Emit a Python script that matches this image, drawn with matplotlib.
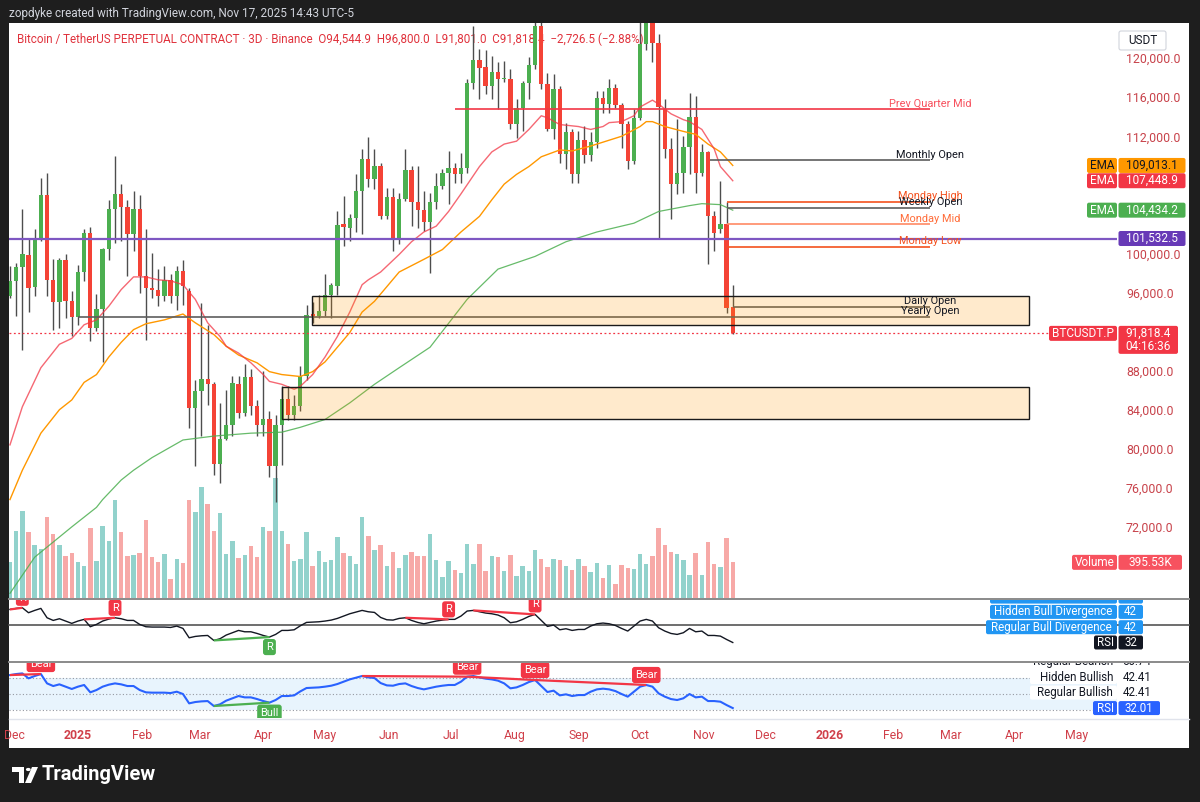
import matplotlib
matplotlib.use("Agg")
import matplotlib.pyplot as plt
from matplotlib.patches import Rectangle, FancyBboxPatch, Polygon, Circle
from matplotlib.lines import Line2D
from matplotlib.transforms import Bbox, TransformedBbox
import numpy as np
import pandas as pd

plt.rcParams['font.family'] = ['Roboto', 'DejaVu Sans']

# ------------------------------------------------------------------ data
first_bar = pd.Timestamp('2024-11-29')   # 3D candles
bar_days = 3

opens = [95600, 97200, 98600, 99860, 96550, 101330, 105950, 97330, 95040, 99380,
         95180, 93470, 98080, 102120, 92370, 94330, 100410, 104510, 106050, 104750,
         101950, 104580, 97680, 96480, 96310, 95620, 97330, 95620, 98190, 96140,
         84170, 85880, 87140, 86670, 78460, 80990, 82460, 86670, 83660, 87320,
         84340, 82460, 83080, 78260, 82460, 85090, 83490, 84340, 87420, 93810,
         93570, 94080, 95700, 96720, 103000, 102640, 103670, 106390, 109640, 107660,
         108960, 103830, 105780, 101430, 105610, 108550, 105270, 104440, 103210, 105270,
         106910, 108270, 108790, 108100, 108790, 117440, 119830, 119110, 117160, 118630,
         117850, 117850, 113230, 114940, 117440, 119280, 123320, 117330, 112720, 116890,
         110150, 112440, 108100, 111600, 110050, 111400, 115970, 115280, 116990, 115180,
         113230, 109470, 113900, 121500, 124400, 121600, 114800, 110670, 107100, 108200,
         110900, 114020, 108200, 110420, 103830, 102460, 102970, 94544.9]
highs = [98700, 99040, 104580, 101500, 102460, 107760, 108270, 99450, 99550, 99900,
         96200, 98870, 102460, 102740, 95800, 100580, 105470, 109980, 107080, 105440,
         106390, 105950, 102460, 100070, 98360, 98700, 97850, 98700, 99380, 96480,
         87080, 94940, 92720, 86800, 84680, 86050, 87420, 87490, 88690, 88170,
         85030, 87930, 83830, 83490, 86390, 86390, 85540, 88440, 94770, 95000,
         95700, 97850, 97000, 104300, 105880, 104000, 108100, 110700, 111900, 110670,
         109300, 106730, 106730, 106220, 110670, 108960, 108960, 106390, 106220, 108270,
         108610, 110490, 109300, 110320, 117850, 123320, 120920, 120850, 120240, 119560,
         119730, 118870, 115790, 117680, 120070, 124400, 124500, 118530, 118360, 117160,
         113400, 112700, 112500, 113060, 112400, 116650, 116650, 117850, 117330, 115450,
         113570, 114770, 123900, 126100, 125500, 122460, 115800, 111860, 113740, 112030,
         116410, 116140, 111180, 110490, 104340, 107400, 105300, 96800]
lows = [95450, 93570, 90150, 93980, 95620, 101260, 95620, 92200, 92370, 93400,
        91520, 92720, 97160, 91010, 92030, 88860, 99380, 101090, 101260, 97680,
        100240, 95960, 91180, 95450, 94600, 95110, 94940, 94260, 94770, 82120,
        78190, 81270, 84510, 77330, 76480, 80920, 81270, 83140, 83400, 83490,
        81270, 81270, 77090, 74500, 78360, 82970, 82970, 83830, 87080, 92900,
        93400, 93570, 93400, 95700, 100750, 101260, 102150, 101950, 106770, 106560,
        103490, 103490, 100240, 100920, 105370, 102800, 102630, 102290, 98020, 104510,
        106560, 105020, 107250, 107250, 108200, 116820, 115790, 116310, 115790, 114770,
        117600, 112720, 111860, 112550, 115790, 118900, 116820, 112550, 111690, 109300,
        108600, 107250, 107250, 109300, 109500, 110840, 114400, 114400, 114940, 110840,
        108600, 109130, 113700, 120800, 119560, 101500, 109800, 103490, 106050, 106220,
        108100, 106220, 107930, 98890, 100240, 102120, 93950, 91801]
closes = [97200, 98600, 99900, 96480, 101330, 105950, 97330, 95040, 99380, 95180,
          93470, 98080, 102120, 92370, 94330, 100410, 104510, 106050, 104750, 101950,
          104580, 97680, 96480, 96310, 95620, 97330, 95620, 98190, 96650, 84170,
          85880, 87140, 86670, 78460, 80990, 82460, 86740, 83660, 87320, 84340,
          82460, 83080, 78260, 82460, 85090, 83490, 84340, 87420, 93740, 93570,
          94080, 95700, 96820, 102870, 102700, 103670, 106390, 109640, 107590, 108960,
          103830, 105780, 101430, 105610, 108550, 105270, 104440, 103210, 105270, 106910,
          108270, 108790, 108100, 108790, 117440, 119830, 119040, 117160, 118630, 117850,
          117910, 113230, 114940, 117440, 119280, 123320, 117330, 112720, 116890, 110150,
          112440, 108100, 111600, 110050, 111400, 115970, 115280, 116900, 115180, 113230,
          109470, 113900, 121500, 124400, 121600, 115000, 110670, 107100, 108200, 110900,
          114020, 108200, 110420, 103830, 102120, 102970, 94430, 91818.4]
volumes_k = [399, 746, 960, 727, 591, 543, 901, 709, 583, 469,
             499, 399, 358, 779, 410, 794, 635, 1089, 735, 469,
             480, 499, 868, 454, 395, 491, 211, 436, 388, 1089,
             956, 1237, 1041, 739, 945, 484, 628, 443, 480, 576,
             458, 787, 739, 1330, 746, 602, 410, 436, 727, 351,
             517, 399, 425, 676, 499, 469, 380, 901, 691, 528,
             591, 358, 506, 332, 480, 513, 469, 462, 713, 421,
             233, 414, 314, 277, 595, 377, 595, 303, 465, 458,
             303, 480, 247, 351, 303, 535, 428, 340, 428, 421,
             355, 314, 432, 358, 292, 388, 225, 366, 151, 366,
             329, 321, 487, 377, 469, 776, 591, 506, 491, 425,
             259, 502, 259, 624, 380, 347, 668, 395.53]
rsi = [73.3, 74.6, 75.4, 69.2, 72.1, 74.6, 62.9, 59.6, 61.7, 58.8,
       55.9, 58.8, 60.9, 51.7, 54.6, 58.8, 61.3, 62.9, 61.7, 59.6,
       59.6, 54.6, 51.7, 51.3, 51.3, 51.3, 50.8, 52.5, 49.6, 37.9,
       39.6, 40.4, 40.8, 34.6, 36.7, 41.3, 44.2, 47.1, 45.4, 45.4,
       43.3, 40.8, 38.8, 42.1, 47.1, 47.1, 47.9, 52.9, 57.1, 57.5,
       57.9, 58.8, 60.0, 62.1, 65.0, 67.9, 70.0, 72.1, 70.4, 69.6,
       63.3, 60.4, 60.0, 62.1, 62.9, 59.6, 57.1, 55.4, 57.1, 58.8,
       60.0, 60.9, 60.9, 65.0, 71.3, 72.1, 70.4, 68.8, 67.9, 66.3,
       62.9, 56.7, 57.9, 60.9, 64.6, 67.1, 59.6, 52.1, 53.8, 47.9,
       49.2, 47.1, 48.3, 48.3, 52.5, 55.4, 56.3, 55.4, 53.3, 49.6,
       46.3, 52.5, 58.8, 60.9, 58.8, 50.4, 46.3, 43.3, 42.1, 44.2,
       49.6, 45.4, 46.3, 40.8, 40.8, 40.0, 35.8, 32.01]

# EMA readings (bar index, value)
ema_fast_idx = [0, 2, 5, 8, 10, 12, 14, 16, 18, 20, 22, 24, 26, 28, 30, 32, 34, 35, 37, 39,
                41, 42, 44, 46, 47, 49, 51, 53, 55, 57, 58, 60, 63, 65, 67, 69, 71, 73, 76, 78,
                80, 82, 84, 86, 87, 89, 92, 94, 96, 97, 99, 101, 102, 104, 105, 107, 109, 110,
                112, 114, 115, 117]
ema_fast = [80400, 84300, 88300, 90700, 91300, 92700, 93200, 94600, 96300, 97600, 97600, 97300,
            97200, 96800, 95300, 92900, 91500, 90500, 89800, 88800, 87600, 86900, 86600, 86100,
            86400, 87600, 89400, 91500, 94000, 96800, 97300, 98100, 99900, 101200, 102200, 102800,
            104300, 106100, 108900, 110400, 111200, 111500, 112700, 114100, 113900, 113200, 113000,
            112700, 113000, 113400, 113500, 114100, 115000, 115700, 115300, 114300, 113700, 113500,
            112700, 110700, 108900, 107448.9]
ema_mid_idx = [0, 2, 5, 8, 10, 12, 14, 16, 18, 20, 22, 25, 28, 30, 33, 35, 37, 40, 42, 44,
               47, 49, 51, 53, 55, 57, 59, 63, 67, 70, 73, 76, 78, 80, 82, 84, 86, 89, 91, 94,
               97, 99, 102, 103, 104, 106, 109, 111, 113, 115, 117]
ema_mid = [74800, 77800, 81600, 84000, 85000, 86800, 87600, 89400, 90900, 92200, 92800, 93200,
           93800, 92900, 91700, 90500, 89600, 88800, 87900, 87600, 87400, 87900, 88900, 90400,
           91900, 94000, 95100, 98100, 99400, 100400, 102200, 103800, 105500, 107100, 108100,
           108900, 109900, 110600, 110500, 111000, 111600, 112000, 113000, 113500, 113500,
           113000, 112500, 112200, 111200, 110400, 109013.1]
ema_slow_idx = [0, 4, 10, 14, 15, 18, 20, 23, 28, 33, 39, 44, 47, 51, 55, 59, 63, 68, 74, 79,
                85, 90, 95, 101, 105, 110, 112, 115, 117]
ema_slow = [65200, 68900, 72000, 74000, 74800, 76800, 77800, 79100, 80900, 81300, 81600, 81700,
            82200, 83000, 84700, 86600, 88300, 90400, 95300, 98400, 99700, 101200, 102200,
            103100, 104300, 104900, 105100, 105000, 104434.2]

swing_low_level = 101532.5
price_ticks = [72000, 76000, 80000, 84000, 88000, 96000, 100000, 112000, 116000, 120000]

# level lines: label, price, start bar, line colour, text colour
levels = [("Prev Quarter Mid", 114770, 72, '#F23645', '#F7525F'),
          ("Monthly Open", 109570, 113.3, '#5d5d5d', '#131722'),
          ("Monday High", 105300, 116, '#F4511E', '#F4511E'),
          ("Weekly Open", 104690, 116, '#5d5d5d', '#131722'),
          ("Monday Mid", 102980, 116, '#FF8A65', '#FF6D3A'),
          ("Monday Low", 100690, 116, '#F4511E', '#F4511E'),
          ("Daily Open", 94544.9, 117, '#5d5d5d', '#131722'),
          ("Yearly Open", 93510, 11, '#5d5d5d', '#131722')]
level_end_bar = 149
# supply / demand zones: top, bottom, start bar
zones = [(95690, 92720, 48.95), (86330, 83080, 44.0)]
zone_end_bar = 164.9

# divergences (bar pairs)
top_bear = [(0, 2), (12, 17), (64, 71), (75, 85)]
top_bull = [(33, 42)]
bot_bear = [(0, 5), (57, 74), (74, 85), (85, 103)]
bot_bull = [(33, 42)]

month_dates = ['2024-12-01', '2025-01-01', '2025-02-01', '2025-03-01', '2025-04-01', '2025-05-01',
               '2025-06-01', '2025-07-01', '2025-08-01', '2025-09-01', '2025-10-01', '2025-11-01',
               '2025-12-01', '2026-01-01', '2026-02-01', '2026-03-01', '2026-04-01', '2026-05-01']
month_labels = ['Dec', '2025', 'Feb', 'Mar', 'Apr', 'May', 'Jun', 'Jul', 'Aug', 'Sep', 'Oct', 'Nov',
                'Dec', '2026', 'Feb', 'Mar', 'Apr', 'May']

# ------------------------------------------------------------------ figure
W, H = 1200, 802
fig = plt.figure(figsize=(W / 100, H / 100), dpi=100)
fig.patch.set_facecolor('#1E1E1E')

def fr(x0, y0, x1, y1):
    return [x0 / W, 1 - y1 / H, (x1 - x0) / W, (y1 - y0) / H]

TOP = 23
fig.add_artist(Rectangle((9 / W, 1 - 748 / H), (1189 - 9) / W, (748 - TOP) / H,
                         transform=fig.transFigure, fc='white', ec='none', zorder=0))

o = np.array(opens, float); hi = np.array(highs, float)
lo = np.array(lows, float); c = np.array(closes, float)
v = np.array(volumes_k, float); r = np.array(rsi, float)
n = len(c)
idx = np.arange(n)
up = c >= o
XL = (-0.16, 179.2)

GREEN = '#4CAF50'; RED = '#F44336'
RED_TAG = '#F23645'
TAG_FS = 8.5

ax_vol = fig.add_axes(fr(9, TOP, 1117, 598))
ax = fig.add_axes(fr(9, TOP, 1117, 598))
for a in (ax_vol, ax):
    a.set_facecolor('none')
    for s in a.spines.values():
        s.set_visible(False)
    a.set_xlim(*XL)
ax_vol.set_axis_off()
ax_vol.set_ylim(0, 6380)
vol_col = np.where(up, '#92D2CC', '#F7A9A7')
ax_vol.bar(idx, v, width=0.72, color=vol_col, linewidth=0)

ax.set_ylim(64720, 123600)
ax.tick_params(axis='x', bottom=False, labelbottom=False)
ax.yaxis.tick_right()
ax.set_yticks(price_ticks)
ax.set_yticklabels([f"{t:,.1f}" for t in price_ticks])
ax.tick_params(axis='y', length=0, pad=6.5, labelsize=8.9, labelcolor='#C8434B')

# candles
ax.vlines(idx, lo, hi, color='#4d4d4d', lw=1.0, zorder=2)
body_b = np.minimum(o, c)
body_h = np.maximum(np.abs(c - o), 90)
ax.bar(idx, body_h, bottom=body_b, width=0.7, color=np.where(up, GREEN, RED),
       linewidth=0, zorder=3)

# EMAs
ax.plot(ema_slow_idx, ema_slow, color='#4CAF50', lw=0.9, alpha=0.85, zorder=4)
ax.plot(ema_mid_idx, ema_mid, color='#FF9800', lw=1.0, zorder=4)
ax.plot(ema_fast_idx, ema_fast, color='#F23645', lw=1.0, alpha=0.75, zorder=4)

# horizontal lines
ax.axhline(swing_low_level, color='#7E57C2', lw=1.6, zorder=4)
ax.axhline(c[-1], color='#F23645', lw=0.9, ls=(0, (1.5, 2)), zorder=4)
for lab, lv, s0, lc, tc in levels:
    ax.hlines(lv, s0, level_end_bar, color=lc, lw=1.2, zorder=4)
    ax.annotate(lab, (level_end_bar, lv), xytext=(0, 5.5), textcoords='offset pixels',
                ha='center', va='center', color=tc, fontsize=7.9, zorder=7)
for zt, zb, z0 in zones:
    ax.add_patch(Rectangle((z0, zb), zone_end_bar - z0, zt - zb, fc=(1.0, 0.596, 0.0, 0.2),
                           ec='#1a1a1a', lw=1.0, zorder=5))

# header
ax.text(17 / W, 1 - 39.5 / H,
        "Bitcoin / TetherUS PERPETUAL CONTRACT · 3D · Binance  O94,544.9  H96,800.0  "
        "L91,801.0  C91,818.4  \u22122,726.5 (\u22122.88%)",
        transform=fig.transFigure, color='#E0323C', fontsize=8.4, va='center', ha='left',
        zorder=1.5)
fig.text(9 / W, 1 - 13 / H, "zopdyke created with TradingView.com, Nov 17, 2025 14:43 UTC-5",
         color='#D1D4DC', fontsize=8.5, va='center', ha='left')

# ------------------------------------------------------------------ RSI panes
ax1 = fig.add_axes(fr(9, 600, 1117, 661))
ax2 = fig.add_axes(fr(9, 663, 1117, 718))
for a in (ax1, ax2):
    a.set_facecolor('none')
    for s in a.spines.values():
        s.set_visible(False)
    a.set_xlim(*XL)
    a.set_yticks([])
ax1.set_xticks([])
ax1.set_ylim(8.9, 85.1)
ax2.set_ylim(19.6, 88.4)

ax1.plot([XL[0], 190.9], [54.2, 54.2], color='#555555', lw=1.2, clip_on=False, zorder=2)
ax1.plot(idx, r, color='#131722', lw=1.0, zorder=3)

ax2.axhspan(30, 70, color='#2196F3', alpha=0.1, lw=0)
for lv in (70, 50, 30):
    ax2.axhline(lv, color='#9598A1', lw=0.8, ls=(0, (1, 2)))
ax2.plot(idx, r, color='#2962FF', lw=1.5, zorder=3)


def div(axis, pairs, color, text, up_side):
    for a_, b_ in pairs:
        axis.plot([a_, b_], [r[a_], r[b_]], color=color, lw=1.6, zorder=4,
                  solid_capstyle='butt')
        axis.annotate(text, (b_, r[b_]), xytext=(0, 10 if up_side else -10),
                      textcoords='offset pixels', ha='center', va='center', fontsize=7.9,
                      color='white', zorder=6, annotation_clip=False, clip_on=True,
                      bbox=dict(boxstyle='round,pad=0.28,rounding_size=0.25', fc=color,
                                ec='none'))


div(ax1, top_bear, '#F23645', 'R', True)
div(ax1, top_bull, '#4CAF50', 'R', False)
div(ax2, bot_bear, '#F23645', 'Bear', True)
div(ax2, bot_bull, '#4CAF50', 'Bull', False)

# time axis
mpos = [(pd.Timestamp(d) - first_bar).days / bar_days for d in month_dates]
ax2.set_xticks(mpos)
ax2.set_xticklabels(month_labels)
ax2.tick_params(axis='x', length=0, pad=8.0, labelsize=8.8, labelcolor='#D0404A')
for t in ax2.get_xticklabels():
    if t.get_text() in ('2025', '2026'):
        t.set_fontweight('bold')

# separators
for yy, col, lw in ((599, '#8a8a8a', 1.4), (662, '#8a8a8a', 1.4), (719, '#E0E3EB', 1.0)):
    fig.add_artist(Line2D([9 / W, 1189 / W], [1 - yy / H, 1 - yy / H],
                          transform=fig.transFigure, color=col, lw=lw, zorder=8))

# ------------------------------------------------------------------ scale tags


def ydisp(axis, val):
    return axis.transData.transform((0, val))[1]


def tag(yc, x0, x1, fc, text, tc, h=15, fs=TAG_FS, ha='center', clip=None, ec='none'):
    p = FancyBboxPatch((x0 / W, (yc - h / 2) / H), (x1 - x0) / W, h / H,
                       boxstyle='round,pad=0,rounding_size=%f' % (2.0 / W),
                       mutation_aspect=W / H, transform=fig.transFigure,
                       fc=fc, ec=ec, lw=0.8, zorder=10)
    fig.add_artist(p)
    tx = (x0 + x1) / 2 if ha == 'center' else (x1 - 4 if ha == 'right' else x0 + 4)
    t = fig.text(tx / W, yc / H, text, ha=ha, va='center', color=tc, fontsize=fs, zorder=11)
    if clip is not None:
        for art in (p, t):
            art.set_clip_box(clip)
            art.set_clip_on(True)
    return p, t


tag(H - 40.5, 1119, 1166, 'white', 'USDT', '#131722', h=19, ec='#D1D4DC')
y = ydisp(ax, ema_mid[-1])
tag(y, 1087, 1117, '#FF9800', 'EMA', '#131722')
tag(y, 1118.5, 1185.5, '#FF9800', f"{ema_mid[-1]:,.1f}", '#131722')
y = ydisp(ax, ema_fast[-1])
tag(y, 1087, 1117, RED_TAG, 'EMA', 'white')
tag(y, 1118.5, 1185.5, RED_TAG, f"{ema_fast[-1]:,.1f}", 'white')
y = ydisp(ax, ema_slow[-1])
tag(y, 1087, 1117, '#4CAF50', 'EMA', 'white')
tag(y, 1118.5, 1185.5, '#4CAF50', f"{ema_slow[-1]:,.1f}", 'white')
y = ydisp(ax, swing_low_level)
tag(y, 1118.5, 1185.5, '#673AB7', f"{swing_low_level:,.1f}", 'white')
y = ydisp(ax, c[-1])
tag(y, 1049, 1117, RED_TAG, 'BTCUSDT.P', 'white')
tag(y - 6.5, 1118.5, 1178, RED_TAG, '', 'white', h=28)
fig.text((1118.5 + 1178) / 2 / W, y / H, f"{c[-1]:,.1f}", ha='center', va='center',
         color='white', fontsize=TAG_FS, zorder=12)
fig.text((1118.5 + 1178) / 2 / W, (y - 13) / H, "04:16:36", ha='center', va='center',
         color='white', fontsize=TAG_FS, zorder=12)
y = ydisp(ax_vol, v[-1])
tag(y, 1072, 1117, '#F7525F', 'Volume', 'white')
tag(y, 1118.5, 1182, '#F7525F', f"{v[-1]:.2f}K", 'white')

clip1 = TransformedBbox(Bbox.from_extents(9 / W, 1 - 661 / H, 1189 / W, 1 - 600 / H),
                        fig.transFigure)
clip2 = TransformedBbox(Bbox.from_extents(9 / W, 1 - 718 / H, 1189 / W, 1 - 663 / H),
                        fig.transFigure)
BLUE = '#2196F3'
PFS = 8.3
y = ydisp(ax1, r[-1])
tag(y, 1094, 1117, '#131722', 'RSI', 'white', h=14, fs=PFS, clip=clip1)
tag(y, 1118.5, 1143, '#131722', f"{r[-1]:.0f}", 'white', h=14, fs=PFS, clip=clip1)
tag(y + 15.3, 986, 1117, BLUE, 'Regular Bull Divergence', 'white', h=14, fs=PFS, clip=clip1)
tag(y + 15.3, 1118.5, 1143, BLUE, '42', 'white', h=14, fs=PFS, clip=clip1)
tag(y + 30.6, 990, 1117, BLUE, 'Hidden Bull Divergence', 'white', h=14, fs=PFS, clip=clip1)
tag(y + 30.6, 1118.5, 1143, BLUE, '42', 'white', h=14, fs=PFS, clip=clip1)
tag(y + 45.9, 990, 1117, BLUE, '', 'white', h=14, fs=PFS, clip=clip1)
tag(y + 45.9, 1118.5, 1143, BLUE, '', 'white', h=14, fs=PFS, clip=clip1)

y = ydisp(ax2, r[-1])
tag(y, 1093, 1117, '#2962FF', 'RSI', 'white', h=14, fs=PFS, clip=clip2)
tag(y, 1118.5, 1160, '#2962FF', f"{r[-1]:.2f}", 'white', h=14, fs=PFS, clip=clip2)
for k, (lab, val) in enumerate([("Regular Bullish", "42.41"), ("Hidden Bullish", "42.41"),
                                ("Regular Bearish", "50.74")]):
    yy = y + 15.5 * (k + 1)
    tag(yy, 1030, 1117, 'white', lab, '#131722', h=14, fs=PFS, ha='right', clip=clip2)
    tag(yy, 1118.5, 1160, 'white', val, '#131722', h=14, fs=PFS, ha='left', clip=clip2)

# ------------------------------------------------------------------ footer logo
fig.text(42 / W, 1 - 775 / H, "TradingView", color='white', fontsize=14.5,
         fontweight='bold', va='center', ha='left')
fig.add_artist(Polygon([(12 / W, 1 - 767 / H), (24 / W, 1 - 767 / H), (24 / W, 1 - 783 / H),
                        (18.5 / W, 1 - 783 / H), (18.5 / W, 1 - 772 / H), (12 / W, 1 - 772 / H)],
                       closed=True, transform=fig.transFigure, fc='white', ec='none'))
fig.add_artist(Circle((28.3 / W, 1 - 769.5 / H), 2.4 / W, transform=fig.transFigure,
                      fc='white', ec='none'))
fig.add_artist(Polygon([(32 / W, 1 - 767 / H), (38 / W, 1 - 767 / H), (31 / W, 1 - 783 / H),
                        (25 / W, 1 - 783 / H)], closed=True, transform=fig.transFigure,
                       fc='white', ec='none'))

fig.savefig('out.png', dpi=100, facecolor=fig.get_facecolor())
